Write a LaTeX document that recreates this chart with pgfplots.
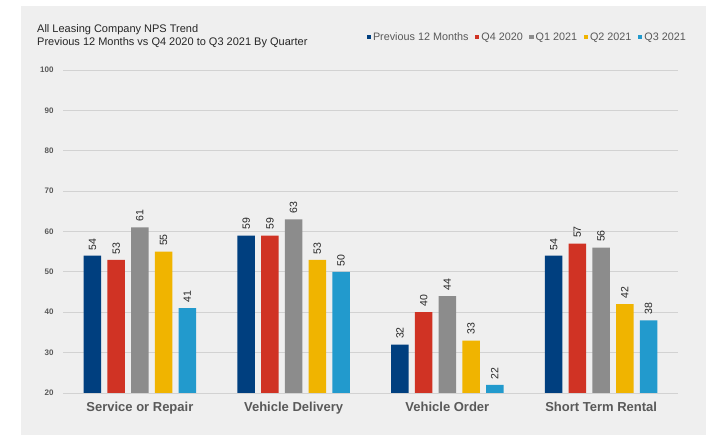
\documentclass[border=0pt]{standalone}
\usepackage{fontspec}
\setmainfont{Liberation Sans}
\usepackage{pgfplots}
\pgfplotsset{compat=1.18}
\definecolor{bg}{HTML}{EFEFEF}
\definecolor{gridc}{HTML}{D2D2D2}
\definecolor{txt}{HTML}{595959}
\definecolor{c1}{HTML}{003F7F}
\definecolor{c2}{HTML}{D03324}
\definecolor{c3}{HTML}{8C8C8C}
\definecolor{c4}{HTML}{F0B400}
\definecolor{c5}{HTML}{229ACD}
\begin{document}
\begin{tikzpicture}[x=1pt,y=1pt]
\fill[white] (0,0) rectangle (706,435);
\fill[bg] (21,0) rectangle (706,429);
\node[anchor=base west, inner sep=0pt, font=\fontsize{11}{13}\selectfont, text=black!85] at (37,402) {All Leasing Company NPS Trend};
\node[anchor=base west, inner sep=0pt, font=\fontsize{11}{13}\selectfont, text=black!85] at (37,389) {Previous 12 Months vs Q4 2020 to Q3 2021 By Quarter};
\begin{axis}[
  at={(63pt,42pt)}, anchor=south west,
  scale only axis, width=615pt, height=323pt,
  xmin=-0.5, xmax=3.5, ymin=20, ymax=100,
  ytick={20,30,...,100},
  xtick={0,1,2,3},
  xticklabels={Service or Repair, Vehicle Delivery, Vehicle Order, Short Term Rental},
  ybar=6.2pt, bar width=17.5pt,
  axis line style={draw=none},
  major tick length=0pt,
  ymajorgrids,
  major grid style={gridc, line width=0.8pt},
  /pgf/number format/assume math mode=true,
  yticklabel style={font=\bfseries\fontsize{8}{9}\selectfont, text=txt, xshift=-6pt},
  xticklabel style={font=\bfseries\fontsize{13}{15}\selectfont, text=txt, yshift=-6pt},
  nodes near coords,
  every node near coord/.append style={rotate=90, anchor=west, inner xsep=5.5pt, font=\fontsize{10.5}{12}\selectfont, text=black!85},
  legend style={at={(1.0163,1.102)}, anchor=east, draw=none, fill=none, inner sep=0pt,
    font=\fontsize{10.8}{12}\selectfont, text=txt,
    /tikz/every even column/.append style={column sep=4.5pt}},
  legend columns=5,
  legend image code/.code={\fill[#1] (0pt,-2.2pt) rectangle (4.4pt,2.2pt);},
]
\addplot[fill=c1, draw=none] coordinates {(0,54) (1,59) (2,32) (3,54)};
\addplot[fill=c2, draw=none] coordinates {(0,53) (1,59) (2,40) (3,57)};
\addplot[fill=c3, draw=none] coordinates {(0,61) (1,63) (2,44) (3,56)};
\addplot[fill=c4, draw=none] coordinates {(0,55) (1,53) (2,33) (3,42)};
\addplot[fill=c5, draw=none] coordinates {(0,41) (1,50) (2,22) (3,38)};
\legend{Previous 12 Months, Q4 2020, Q1 2021, Q2 2021, Q3 2021}
\end{axis}
\end{tikzpicture}
\end{document}
